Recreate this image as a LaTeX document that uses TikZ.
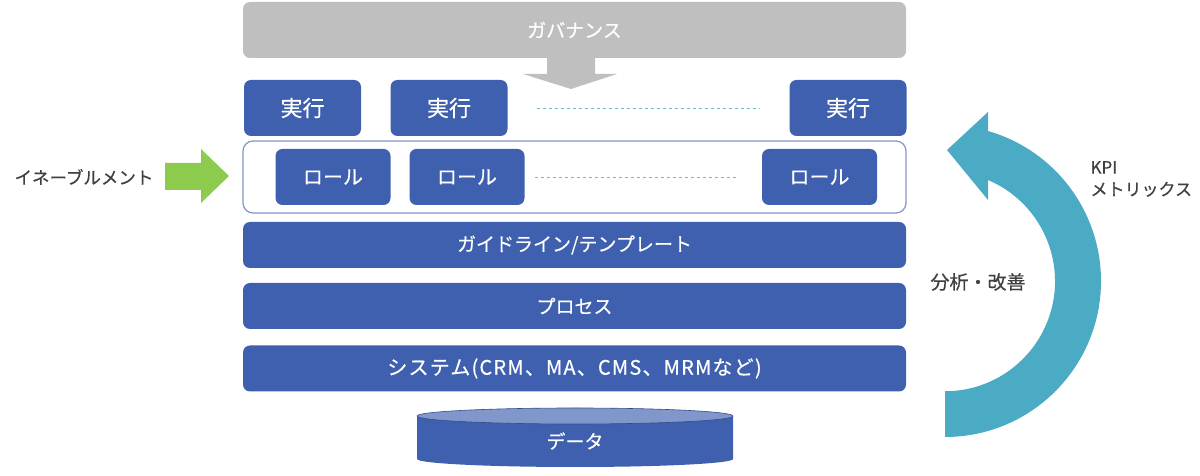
\documentclass[tikz,border=0pt]{standalone}
\usepackage{fontspec}
\setmainfont{Noto Sans CJK JP}[FakeBold=0.4]
\usetikzlibrary{positioning}
\definecolor{boxblue}{HTML}{3F60AE}
\definecolor{govgray}{HTML}{BFBFBF}
\definecolor{rimblue}{HTML}{8593C4}
\definecolor{dashteal}{HTML}{6DBCCE}
\definecolor{enablegreen}{HTML}{8DCB4E}
\definecolor{loopteal}{HTML}{4BAAC4}
\definecolor{toplight}{HTML}{8196CB}
\definecolor{labelgray}{HTML}{404040}
\newcommand{\LayerW}{663pt}
\newcommand{\UnitW}{117pt}

\begin{document}
\begin{tikzpicture}[x=1pt,y=1pt,every node/.style={font=\fontsize{19}{23}\selectfont},
  layer/.style={fill=boxblue,text=white,rounded corners=7pt,minimum width=\LayerW,minimum height=46pt,inner sep=0pt},
  unit/.style={fill=boxblue,text=white,rounded corners=7pt,minimum width=\UnitW,minimum height=56pt,inner sep=0pt},
  gap/.style={draw=dashteal,dashed,line width=0.8pt}]
\useasboundingbox (0,0) rectangle (1200,476);
% governance on top
\node[layer,fill=govgray,minimum height=56pt] (gov) at (574.5,446) {ガバナンス};
\fill[govgray] (547,419) -- (595,419) -- (595,402) -- (617,402) -- (571,387) -- (523,402) -- (547,402) -- cycle;
% execution row
\node[unit,font=\fontsize{22}{26}\selectfont] (exec1) at (302.5,368) {実行};
\node[unit,font=\fontsize{22}{26}\selectfont] (exec2) at (449,368) {実行};
\node[unit,font=\fontsize{22}{26}\selectfont] (exec3) at (848,368) {実行};
\draw[gap,shorten <=29pt,shorten >=30pt] (exec2.east) -- (exec3.west);
% roles
\node[draw=rimblue,line width=1.2pt,rounded corners=10pt,minimum width=\LayerW,minimum height=72pt,inner sep=0pt] (roles) at (574.5,299) {};
\node[unit,minimum width=115pt,font=\fontsize{20}{24}\selectfont] (role1) at (333,299) {ロール};
\node[unit,minimum width=115pt,font=\fontsize{20}{24}\selectfont] (role2) at (467,299) {ロール};
\node[unit,minimum width=115pt,font=\fontsize{20}{24}\selectfont] (role3) at (819.5,299) {ロール};
\draw[gap,shorten <=10pt,shorten >=26pt] (role2.east) -- (role3.west);
\fill[enablegreen] (165,313) -- (201,313) -- (201,327) -- (229,300) -- (201,273) -- (201,286) -- (165,286) -- cycle;
\node[anchor=east,text=labelgray,font=\fontsize{17.5}{21}\selectfont] (enable) at (157,299) {イネーブルメント};
% layers
\node[layer] (guide) at (574.5,231) {ガイドライン/テンプレート};
\node[layer] (proc) at (574.5,170) {プロセス};
\node[layer,font=\fontsize{20}{24}\selectfont\addfontfeature{LetterSpace=6}] (sys) at (574.5,107.5) {システム(CRM、MA、CMS、MRMなど)};
% data store
\fill[boxblue] (417,60) -- (417,17) arc[start angle=180,end angle=360,x radius=158,y radius=8] -- (733,60) -- cycle;
\filldraw[fill=toplight,draw=boxblue!80!black,line width=0.6pt] (575,60) ellipse[x radius=158,y radius=8];
\node[text=white] (data) at (575,35) {データ};
% improvement loop
\fill[loopteal] (945,39) arc[start angle=-90,end angle=74,radius=156] -- (988,364) -- (947,326) -- (988,276) -- (988,296) arc[start angle=67,end angle=-90,radius=110] -- cycle;
\node[text=labelgray] (kaizen) at (978,194) {分析・改善};
\node[anchor=west,align=left,text=labelgray,font=\fontsize{17}{22}\selectfont] (kpi) at (1087,297) {KPI\\メトリックス};
\end{tikzpicture}
\end{document}
